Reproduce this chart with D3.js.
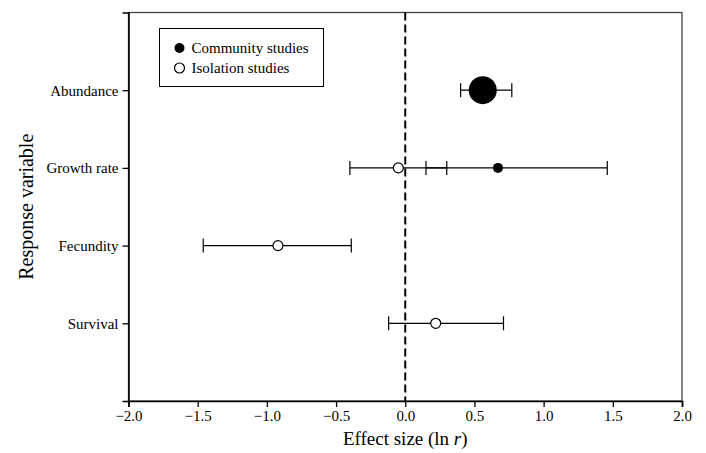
<!DOCTYPE html>
<html>
<head>
<meta charset="utf-8">
<script src="https://cdn.jsdelivr.net/npm/d3@7"></script>
<style>
  body { margin: 0; background: #fff; }
  text { font-family: 'Liberation Serif', 'Times New Roman', serif; }
</style>
</head>
<body>
<div id="grafica"></div>
<script>
// datos
variables = ['Abundance', 'Growth rate', 'Fecundity', 'Survival']
xTicks = [-2.0, -1.5, -1.0, -0.5, 0.0, 0.5, 1.0, 1.5, 2.0]

// estudios de comunidad
comunidad_var  = ['Abundance', 'Growth rate']
comunidad_mean = [0.56, 0.67]
comunidad_lo   = [0.40, 0.15]
comunidad_hi   = [0.77, 1.46]

// estudios de aislamiento
aislamiento_var  = ['Growth rate', 'Fecundity', 'Survival']
aislamiento_mean = [-0.05, -0.92, 0.22]
aislamiento_lo   = [-0.40, -1.46, -0.12]
aislamiento_hi   = [0.30, -0.39, 0.71]

ancho_total = 706
alto_total  = 453
margin = { left: 128.5, right: 24, top: 12.5, bottom: 52 }
ancho = ancho_total - margin.left - margin.right
alto  = alto_total - margin.top - margin.bottom

svg = d3.select('#grafica')
  .append('svg')
  .attr('width', ancho_total)
  .attr('height', alto_total)

g = svg.append('g')
  .attr('transform', `translate(${margin.left},${margin.top})`)

x = d3.scaleLinear().domain([-2, 2]).range([0, ancho])
y = d3.scalePoint().domain(['', ...variables, ' ']).range([0, alto])

// marco
g.append('rect')
  .attr('width', ancho).attr('height', alto)
  .attr('fill', 'none').attr('stroke', '#444').attr('stroke-width', 1.3)

// ejes
xAxis = g.append('g')
  .attr('transform', `translate(0,${alto})`)
  .call(d3.axisBottom(x).tickValues(xTicks).tickSize(6).tickPadding(3))
xAxis.select('.domain').attr('stroke-width', 1.6)
xAxis.selectAll('line').attr('stroke-width', 1.3)
xAxis.selectAll('text')
  .style('font-size', '15px').style('font-family', "'Liberation Serif', serif").attr('fill', '#000')
  .text((d) => d3.format('.1f')(d).replace('-', '\u2212'))

yAxis = g.append('g')
  .call(d3.axisLeft(y).tickValues(variables).tickSize(6).tickPadding(4))
yAxis.select('.domain').attr('stroke-width', 1.6)
yAxis.selectAll('line').attr('stroke-width', 1.3)
yAxis.selectAll('text')
  .style('font-size', '15px').style('font-family', "'Liberation Serif', serif").attr('fill', '#000')

// línea de cero
g.append('line')
  .attr('x1', x(0)).attr('x2', x(0))
  .attr('y1', 0).attr('y2', alto)
  .attr('stroke', '#000').attr('stroke-width', 2)
  .attr('stroke-dasharray', '8,4')

function barras(vars, lo, hi) {
  vars.forEach((v, i) => {
    yy = y(v)
    g.append('line')
      .attr('x1', x(lo[i])).attr('x2', x(hi[i]))
      .attr('y1', yy).attr('y2', yy)
      .attr('stroke', '#000').attr('stroke-width', 1.2)
    ;[lo[i], hi[i]].forEach((e) => {
      g.append('line')
        .attr('x1', x(e)).attr('x2', x(e))
        .attr('y1', yy - 7).attr('y2', yy + 7)
        .attr('stroke', '#000').attr('stroke-width', 1.2)
    })
  })
}

barras(comunidad_var, comunidad_lo, comunidad_hi)
barras(aislamiento_var, aislamiento_lo, aislamiento_hi)

radios = [14, 5]
g.selectAll('circle.com')
  .data(comunidad_var)
  .enter().append('circle')
  .attr('cx', (d, i) => x(comunidad_mean[i]))
  .attr('cy', (d) => y(d))
  .attr('r', (d, i) => radios[i])
  .attr('fill', '#000')

g.selectAll('circle.ais')
  .data(aislamiento_var)
  .enter().append('circle')
  .attr('cx', (d, i) => x(aislamiento_mean[i]))
  .attr('cy', (d) => y(d))
  .attr('r', 5)
  .attr('fill', '#fff').attr('stroke', '#000').attr('stroke-width', 1.2)

// leyenda
ley = svg.append('g').attr('transform', 'translate(159.5,28.5)')
ley.append('rect').attr('width', 164).attr('height', 58)
  .attr('fill', '#fff').attr('stroke', '#000').attr('stroke-width', 1)
ley.append('circle').attr('cx', 20).attr('cy', 19.5).attr('r', 5).attr('fill', '#000')
ley.append('circle').attr('cx', 20).attr('cy', 39.5).attr('r', 5)
  .attr('fill', '#fff').attr('stroke', '#000').attr('stroke-width', 1.2)
ley.append('text').attr('x', 32).attr('y', 24.5).attr('font-size', 15).text('Community studies')
ley.append('text').attr('x', 32).attr('y', 44.5).attr('font-size', 15).text('Isolation studies')

// títulos
svg.append('text')
  .attr('x', margin.left + ancho / 2).attr('y', 445)
  .attr('text-anchor', 'middle').attr('font-size', 19)
  .html('Effect size (ln <tspan font-style="italic">r</tspan>)')

svg.append('text')
  .attr('transform', `translate(33,${margin.top + alto / 2}) rotate(-90)`)
  .attr('text-anchor', 'middle').attr('font-size', 20)
  .text('Response variable')
</script>
</body>
</html>
